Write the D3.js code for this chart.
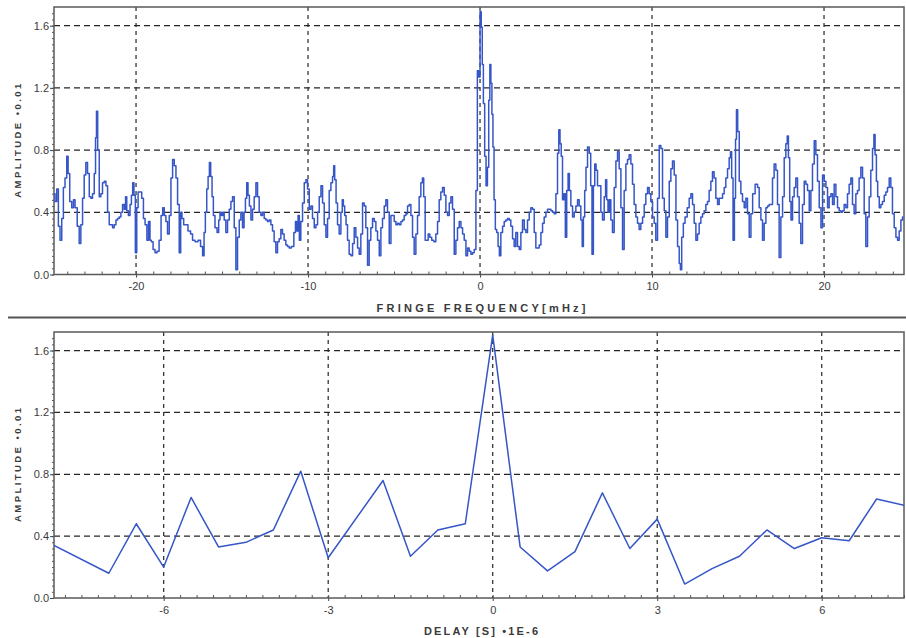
<!DOCTYPE html>
<html lang="en">
<head>
<meta charset="UTF-8">
<title>Fringe frequency and delay spectra</title>
<script src="https://cdn.jsdelivr.net/npm/d3@7"></script>
<style>
  body { margin: 0; background: #fff; }
  svg { display: block; font-family: 'Liberation Sans', Arial, sans-serif; }
</style>
</head>
<body>
<div id="chart"></div>
<script>
  // tick values
  const ampTicks = [0, 0.4, 0.8, 1.2, 1.6]
  const freqTicks = [-20, -10, 0, 10, 20]
  const delayTicks = [-6, -3, 0, 3, 6]

  // fringe frequency [mHz] vs amplitude (x0.01)
  const fringeSpectrum = [
    [-24.77,0.52],[-24.65,0.47],[-24.57,0.55],[-24.46,0.31],[-24.38,0.22],[-24.26,0.36],[-24.19,0.56],[-24.07,0.62],[-23.99,0.76],[-23.91,0.65],
    [-23.80,0.47],[-23.68,0.43],[-23.60,0.48],[-23.49,0.43],[-23.35,0.31],[-23.26,0.20],[-23.16,0.32],[-23.06,0.49],[-22.97,0.64],[-22.87,0.72],
    [-22.77,0.65],[-22.67,0.50],[-22.58,0.49],[-22.48,0.52],[-22.38,0.65],[-22.33,0.88],[-22.27,1.05],[-22.19,0.80],[-22.09,0.50],[-22.00,0.52],
    [-21.90,0.59],[-21.80,0.60],[-21.70,0.57],[-21.61,0.40],[-21.51,0.32],[-21.41,0.32],[-21.32,0.30],[-21.22,0.32],[-21.12,0.35],[-21.03,0.36],
    [-20.93,0.37],[-20.83,0.40],[-20.74,0.45],[-20.64,0.42],[-20.58,0.50],[-20.50,0.41],[-20.39,0.38],[-20.31,0.45],[-20.23,0.51],[-20.16,0.59],
    [-20.08,0.51],[-20.00,0.14],[-19.92,0.43],[-19.84,0.53],[-19.73,0.53],[-19.61,0.49],[-19.53,0.36],[-19.42,0.32],[-19.32,0.22],[-19.23,0.34],
    [-19.15,0.22],[-19.07,0.21],[-18.95,0.16],[-18.84,0.14],[-18.72,0.15],[-18.60,0.22],[-18.49,0.38],[-18.41,0.43],[-18.31,0.38],[-18.22,0.34],
    [-18.12,0.26],[-18.02,0.38],[-17.92,0.62],[-17.83,0.74],[-17.73,0.70],[-17.63,0.62],[-17.54,0.45],[-17.44,0.14],[-17.37,0.40],[-17.29,0.36],
    [-17.17,0.32],[-17.06,0.32],[-16.90,0.28],[-16.76,0.26],[-16.67,0.22],
    [-16.47,0.21],[-16.32,0.22],[-16.18,0.18],[-16.08,0.12],[-16.01,0.27],[-15.93,0.40],[-15.85,0.55],[-15.77,0.63],[-15.70,0.72],[-15.62,0.63],
    [-15.54,0.50],[-15.47,0.38],[-15.35,0.30],[-15.23,0.27],[-15.16,0.35],[-15.08,0.40],[-15.00,0.38],[-14.92,0.40],[-14.83,0.35],[-14.73,0.27],
    [-14.63,0.35],[-14.53,0.42],[-14.44,0.47],[-14.34,0.50],[-14.24,0.30],[-14.15,0.03],[-14.05,0.24],[-13.95,0.35],[-13.86,0.40],[-13.76,0.30],
    [-13.68,0.40],[-13.60,0.49],[-13.53,0.59],[-13.45,0.51],[-13.37,0.44],[-13.27,0.35],[-13.18,0.42],[-13.08,0.50],[-12.98,0.59],[-12.89,0.50],
    [-12.79,0.40],[-12.69,0.38],[-12.60,0.40],[-12.50,0.36],[-12.40,0.35],[-12.31,0.34],[-12.21,0.35],[-12.11,0.32],[-12.02,0.28],[-11.92,0.21],
    [-11.82,0.14],[-11.73,0.21],[-11.63,0.23],[-11.53,0.29],[-11.44,0.26],[-11.34,0.22],[-11.24,0.19],[-11.14,0.18],[-11.05,0.17],[-10.89,0.18],
    [-10.76,0.27],[-10.70,0.34],[-10.62,0.28],[-10.54,0.38],[-10.47,0.22],[-10.37,0.34],[-10.27,0.46],[-10.17,0.59],[-10.08,0.61],[-9.98,0.55],
    [-9.88,0.42],[-9.79,0.44],[-9.69,0.36],[-9.59,0.30],[-9.49,0.32],[-9.40,0.40],[-9.30,0.50],[-9.20,0.57],[-9.11,0.46],[-9.01,0.32],
    [-8.91,0.24],[-8.82,0.36],[-8.72,0.54],[-8.62,0.59],[-8.53,0.63],
    [-8.49,0.70],[-8.41,0.61],[-8.33,0.46],[-8.24,0.32],[-8.14,0.26],[-8.04,0.40],[-7.98,0.48],[-7.91,0.44],[-7.83,0.38],[-7.75,0.32],
    [-7.66,0.22],[-7.56,0.13],[-7.46,0.12],[-7.36,0.20],[-7.27,0.30],[-7.17,0.24],[-7.07,0.17],[-6.98,0.13],[-6.88,0.26],[-6.78,0.46],
    [-6.69,0.44],[-6.59,0.30],[-6.49,0.06],[-6.40,0.22],[-6.30,0.30],[-6.20,0.36],[-6.10,0.34],[-6.01,0.28],[-5.91,0.22],[-5.81,0.12],
    [-5.72,0.30],[-5.62,0.36],[-5.52,0.44],[-5.43,0.48],[-5.33,0.40],[-5.23,0.20],[-5.13,0.38],[-5.04,0.38],[-4.94,0.34],[-4.84,0.32],
    [-4.75,0.33],[-4.65,0.32],[-4.55,0.34],[-4.46,0.35],[-4.36,0.38],[-4.26,0.39],[-4.17,0.44],[-4.07,0.45],[-3.97,0.38],[-3.88,0.24],
    [-3.78,0.13],[-3.68,0.26],[-3.59,0.38],[-3.49,0.50],[-3.39,0.59],[-3.31,0.62],[-3.24,0.50],[-3.14,0.22],[-3.06,0.22],[-2.97,0.26],
    [-2.87,0.24],[-2.75,0.22],[-2.62,0.21],[-2.52,0.26],[-2.42,0.34],[-2.33,0.48],[-2.23,0.53],[-2.13,0.56],[-2.03,0.51],[-1.94,0.40],
    [-1.84,0.38],[-1.74,0.46],[-1.65,0.50],[-1.55,0.42],[-1.45,0.13],[-1.36,0.22],[-1.26,0.30],[-1.16,0.34],[-1.06,0.30],[-0.97,0.26],
    [-0.87,0.22],[-0.77,0.12],[-0.68,0.17],[-0.58,0.15],[-0.48,0.13],[-0.39,0.14],
    [-0.29,0.16],[-0.19,0.54],[-0.12,1.31],[-0.04,1.27],[0.04,1.69],[0.10,1.59],[0.16,1.35],[0.23,1.10],[0.31,0.76],[0.39,0.57],
    [0.47,0.69],[0.54,1.12],[0.60,1.35],[0.66,1.23],[0.72,1.03],[0.78,0.82],[0.85,0.48],[0.93,0.29],[1.01,0.27],[1.09,0.18],
    [1.16,0.12],[1.26,0.27],[1.36,0.31],[1.45,0.34],[1.55,0.35],[1.65,0.36],[1.74,0.35],[1.84,0.31],[1.94,0.23],[2.03,0.18],
    [2.13,0.27],[2.23,0.18],[2.33,0.16],[2.42,0.27],[2.52,0.35],[2.62,0.29],[2.71,0.27],[2.81,0.35],[2.91,0.40],[3.00,0.43],
    [3.10,0.42],[3.20,0.27],[3.29,0.17],[3.39,0.17],[3.49,0.19],[3.59,0.27],[3.68,0.33],[3.78,0.37],[3.88,0.40],[3.97,0.42],
    [4.07,0.42],[4.17,0.41],[4.26,0.40],[4.36,0.39],[4.46,0.52],[4.55,0.78],[4.61,0.93],[4.69,0.84],[4.75,0.76],[4.84,0.48],
    [4.92,0.52],[5.00,0.24],[5.08,0.54],[5.16,0.65],[5.23,0.54],[5.33,0.44],[5.43,0.37],[5.52,0.40],[5.62,0.44],[5.72,0.48],
    [5.81,0.44],[5.91,0.35],[5.97,0.18],[6.05,0.37],[6.12,0.54],[6.20,0.69],[6.30,0.82],[6.40,0.78],[6.47,0.57],[6.55,0.13],
    [6.63,0.57],[6.71,0.71],[6.78,0.67],[6.88,0.57],[6.98,0.57],[7.07,0.40],[7.17,0.35],[7.27,0.50],[7.33,0.61],[7.40,0.48],
    [7.48,0.40],[7.56,0.48],[7.65,0.35],[7.75,0.27],
    [7.85,0.56],[7.95,0.73],[8.04,0.79],[8.14,0.68],[8.24,0.43],[8.33,0.16],[8.43,0.54],[8.53,0.71],[8.62,0.74],[8.72,0.77],
    [8.82,0.71],[8.91,0.58],[9.01,0.45],[9.11,0.37],[9.20,0.33],[9.30,0.29],[9.40,0.33],[9.50,0.37],[9.59,0.45],[9.69,0.52],
    [9.79,0.56],[9.88,0.52],[9.98,0.47],[10.08,0.37],[10.17,0.33],[10.27,0.22],[10.37,0.49],[10.47,0.83],[10.56,0.81],[10.66,0.49],
    [10.76,0.41],[10.85,0.24],[10.95,0.37],[11.05,0.60],[11.14,0.68],[11.24,0.73],[11.34,0.64],[11.44,0.35],[11.53,0.18],[11.63,0.07],
    [11.67,0.03],[11.78,0.24],[11.86,0.33],[11.98,0.37],[12.11,0.43],[12.21,0.49],[12.31,0.52],[12.40,0.45],[12.50,0.33],[12.60,0.22],
    [12.69,0.26],[12.79,0.33],[12.89,0.37],[12.98,0.39],[13.08,0.41],[13.18,0.45],[13.27,0.47],[13.37,0.54],[13.47,0.60],[13.56,0.66],
    [13.66,0.62],[13.76,0.49],[13.86,0.45],[13.95,0.49],[14.05,0.49],[14.15,0.52],[14.24,0.56],[14.34,0.62],[14.44,0.68],[14.53,0.75],
    [14.59,0.79],[14.67,0.62],[14.75,0.22],[14.83,0.49],[14.88,0.87],[14.94,1.06],[15.02,0.92],[15.12,0.60],[15.21,0.52],[15.31,0.47],
    [15.41,0.43],[15.50,0.49],[15.60,0.39],[15.70,0.24],[15.80,0.39],[15.90,0.52],[16.09,0.58],
    [16.18,0.56],[16.28,0.43],[16.38,0.35],[16.47,0.22],[16.57,0.33],[16.67,0.43],[16.76,0.44],[16.86,0.45],[16.96,0.45],[17.05,0.62],
    [17.15,0.71],[17.25,0.67],[17.34,0.45],[17.44,0.11],[17.54,0.37],[17.64,0.50],[17.73,0.75],[17.83,0.84],[17.89,0.89],[17.97,0.75],
    [18.04,0.47],[18.12,0.35],[18.22,0.50],[18.31,0.56],[18.41,0.62],[18.51,0.50],[18.60,0.33],[18.70,0.20],[18.80,0.45],[18.90,0.60],
    [18.99,0.58],[19.09,0.54],[19.19,0.41],[19.28,0.54],[19.38,0.71],[19.48,0.86],[19.57,0.77],[19.67,0.60],[19.77,0.43],[19.87,0.30],
    [19.96,0.64],[20.06,0.60],[20.16,0.56],[20.25,0.43],[20.35,0.50],[20.45,0.52],[20.54,0.45],[20.64,0.58],[20.74,0.50],[20.83,0.43],
    [20.93,0.41],[21.03,0.40],[21.12,0.41],[21.22,0.45],[21.32,0.43],[21.41,0.52],[21.51,0.58],[21.61,0.62],[21.70,0.45],[21.80,0.39],
    [21.90,0.52],[21.99,0.54],[22.09,0.62],[22.19,0.69],[22.29,0.62],[22.38,0.39],[22.48,0.18],[22.58,0.37],[22.67,0.50],[22.77,0.67],
    [22.87,0.81],[22.93,0.90],[23.01,0.77],[23.08,0.60],[23.16,0.50],[23.26,0.43],[23.35,0.45],[23.45,0.47],[23.55,0.51],[23.64,0.53],
    [23.74,0.56],[23.84,0.62],[23.93,0.56],[24.03,0.39],[24.13,0.30],[24.23,0.24],[24.32,0.22],[24.42,0.28],[24.52,0.35],[24.61,0.37]
  ]

  // delay [s * 1E-6] vs amplitude (x0.01)
  const delaySpectrum = [
    [-8,0.34],[-7,0.16],[-6.5,0.48],[-6,0.20],[-5.5,0.65],[-5,0.33],[-4.5,0.36],[-4,0.44],[-3.5,0.82],[-3,0.26],
    [-2,0.76],[-1.5,0.27],[-1,0.44],[-0.5,0.48],[0,1.70],[0.5,0.33],[1,0.175],[1.5,0.30],[2,0.68],[2.5,0.32],
    [3,0.51],[3.5,0.09],[4,0.19],[4.5,0.27],[5,0.44],[5.5,0.32],[6,0.39],[6.5,0.37],[7,0.64],[7.5,0.60]
  ]

  const width = 906
  const height = 638
  const marginLeft = 54
  const marginRight = 2
  const lineColor = '#3656c8'

  const svg = d3.select('#chart')
  .append('svg')
  .attr('width', width)
  .attr('height', height)

  const drawPanel = ({top, bottom, xDomain, xTicks, minorStep, data, curve, xTitle, xTitleLen, id}) => {
    const x = d3.scaleLinear().domain(xDomain).range([marginLeft, width - marginRight])
    const y = d3.scaleLinear().domain([0, 1.72]).range([bottom, top])
    const g = svg.append('g')

    // grid
    g.append('g')
    .selectAll('line')
    .data(ampTicks.filter(d => d > 0))
    .join('line')
    .attr('x1', marginLeft).attr('x2', width - marginRight)
    .attr('y1', d => y(d)).attr('y2', d => y(d))
    .attr('stroke', '#262626').attr('stroke-width', 1.2).attr('stroke-dasharray', '6,4')

    g.append('g')
    .selectAll('line')
    .data(xTicks)
    .join('line')
    .attr('x1', d => x(d)).attr('x2', d => x(d))
    .attr('y1', top).attr('y2', bottom)
    .attr('stroke', '#262626').attr('stroke-width', 1.2).attr('stroke-dasharray', '4,4')

    // minor ticks
    const [x0, x1] = xDomain
    g.append('g')
    .attr('transform', `translate(0,${bottom})`)
    .call(d3.axisBottom(x).tickValues(d3.range(Math.ceil(x0 / minorStep) * minorStep, x1, minorStep)).tickSize(-3).tickFormat(''))
    .call(a => a.select('.domain').remove())
    .call(a => a.selectAll('line').attr('stroke', '#555'))

    g.append('g')
    .attr('transform', `translate(${marginLeft},0)`)
    .call(d3.axisLeft(y).tickValues(d3.range(0, 1.72, 0.04)).tickSize(2).tickFormat(''))
    .call(a => a.select('.domain').remove())
    .call(a => a.selectAll('line').attr('stroke', '#555'))

    // major axes
    g.append('g')
    .attr('transform', `translate(${marginLeft},0)`)
    .call(d3.axisLeft(y).tickValues(ampTicks).tickFormat(d3.format('.1f')).tickSize(4).tickPadding(1))
    .call(a => a.select('.domain').remove())
    .call(a => a.selectAll('line').attr('stroke', '#444'))
    .call(a => a.selectAll('text').attr('font-size', 11).attr('fill', '#3a3a3a').attr('font-family', 'Liberation Sans'))

    g.append('g')
    .attr('transform', `translate(0,${bottom})`)
    .call(d3.axisBottom(x).tickValues(xTicks).tickFormat(d => String(d)).tickSize(3).tickPadding(5))
    .call(a => a.select('.domain').remove())
    .call(a => a.selectAll('line').attr('stroke', '#444'))
    .call(a => a.selectAll('text').attr('font-size', 11).attr('fill', '#3a3a3a').attr('font-family', 'Liberation Sans'))

    // frame
    g.append('rect')
    .attr('x', marginLeft).attr('y', top)
    .attr('width', width - marginRight - marginLeft).attr('height', bottom - top)
    .attr('fill', 'none').attr('stroke', '#5a5a5a').attr('stroke-width', 1.5)

    // data line
    svg.append('clipPath').attr('id', id)
    .append('rect')
    .attr('x', marginLeft).attr('y', top)
    .attr('width', width - marginRight - marginLeft).attr('height', bottom - top)

    const line = d3.line().x(d => x(d[0])).y(d => y(d[1])).curve(curve)
    g.append('path')
    .datum(data)
    .attr('clip-path', `url(#${id})`)
    .attr('fill', 'none')
    .attr('stroke', lineColor)
    .attr('stroke-width', 1.5)
    .attr('stroke-linejoin', 'round')
    .attr('d', line)

    // titles
    g.append('text')
    .attr('transform', `translate(21,${(top + bottom) / 2}) rotate(-90)`)
    .attr('text-anchor', 'middle')
    .attr('font-size', 9.5).attr('font-weight', 'bold').attr('fill', '#3a3a3a')
    .attr('textLength', 114).attr('lengthAdjust', 'spacing')
    .text('AMPLITUDE •0.01')

    g.append('text')
    .attr('x', (marginLeft + width - marginRight) / 2 + 2)
    .attr('y', bottom + 37)
    .attr('text-anchor', 'middle')
    .attr('font-size', 11).attr('font-weight', 'bold').attr('fill', '#3a3a3a')
    .attr('textLength', xTitleLen).attr('lengthAdjust', 'spacing')
    .text(xTitle)
  }

  drawPanel({
    top: 7, bottom: 274.5, xDomain: [-24.77, 24.65], xTicks: freqTicks, minorStep: 1,
    data: fringeSpectrum, curve: d3.curveStep, xTitle: 'FRINGE FREQUENCY[mHz]', xTitleLen: 209, id: 'clipTop'
  })

  drawPanel({
    top: 332, bottom: 598, xDomain: [-8, 7.5], xTicks: delayTicks, minorStep: 0.3,
    data: delaySpectrum, curve: d3.curveLinear, xTitle: 'DELAY [S] •1E-6', xTitleLen: 114, id: 'clipBottom'
  })

  // separator between the two panels
  svg.append('line')
  .attr('x1', 8).attr('x2', width)
  .attr('y1', 317.5).attr('y2', 317.5)
  .attr('stroke', '#555').attr('stroke-width', 2)
</script>
</body>
</html>
